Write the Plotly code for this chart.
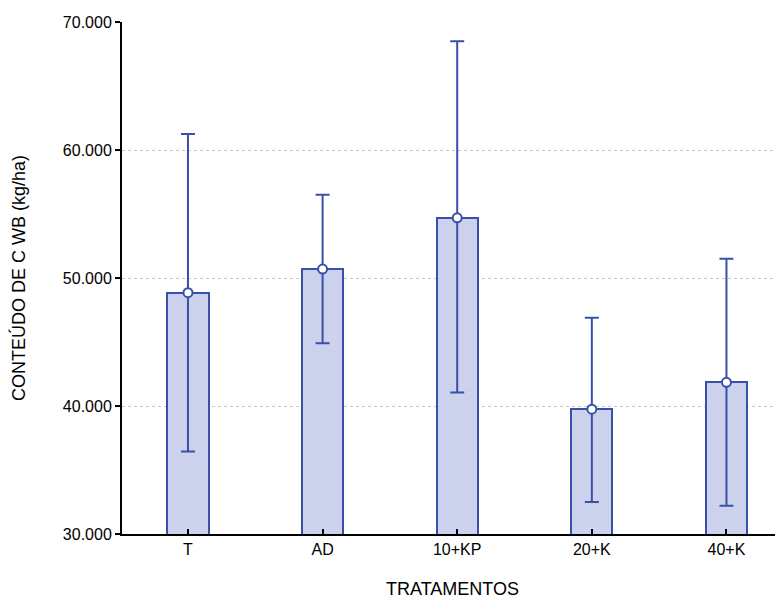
import plotly.graph_objects as go

categories = ["T", "AD", "10+KP", "20+K", "40+K"]
means = [48850, 50700, 54700, 39750, 41850]
err_plus = [12400, 5800, 13800, 7150, 9650]
err_minus = [12400, 5800, 13650, 7250, 9650]
y_ticks = [30000, 40000, 50000, 60000, 70000]

blue = "#3a50a6"

fig = go.Figure()
fig.add_trace(go.Bar(
    x=categories, y=means, base=0, width=0.305,
    marker=dict(color="#c9d0ec", line=dict(color=blue, width=2),
                pattern=dict(shape=".", fgcolor="#7787cc", bgcolor="#e8ebf8", size=2, solidity=0.55)),
    showlegend=False,
))
fig.add_trace(go.Scatter(
    x=categories, y=means, mode="markers",
    marker=dict(symbol="circle", size=9, color="white", line=dict(color=blue, width=2)),
    error_y=dict(type="data", symmetric=False, array=err_plus, arrayminus=err_minus,
                 color=blue, thickness=2, width=7),
    showlegend=False,
))

fig.update_layout(
    width=775, height=591,
    margin=dict(l=114, r=0, t=14, b=65),
    paper_bgcolor="white", plot_bgcolor="white",
    separators=",.",
    font=dict(family="Liberation Sans, Arial, sans-serif", size=16, color="black"),
    bargap=0,
)
fig.update_xaxes(
    type="category", range=[-0.49, 4.42],
    showline=True, linecolor="black", linewidth=2,
    ticks="inside", ticklen=5, tickcolor="black", tickwidth=2,
    tickfont=dict(size=16), automargin=False,
    showgrid=False, zeroline=False,
    title=dict(text="TRATAMENTOS", font=dict(size=18), standoff=29),
)
fig.update_yaxes(
    range=[30000, 70000], tickvals=y_ticks, tickformat=",d",
    showline=True, linecolor="black", linewidth=2,
    ticks="outside", ticklen=5, tickcolor="black", tickwidth=2,
    tickfont=dict(size=16), automargin=False,
    showgrid=True, gridcolor="#c8c8c8", griddash="dot", gridwidth=1,
    zeroline=False,
    title=dict(text="CONTEÚDO DE C WB (kg/ha)", font=dict(size=18), standoff=34),
)
fig.write_html("out.html")
